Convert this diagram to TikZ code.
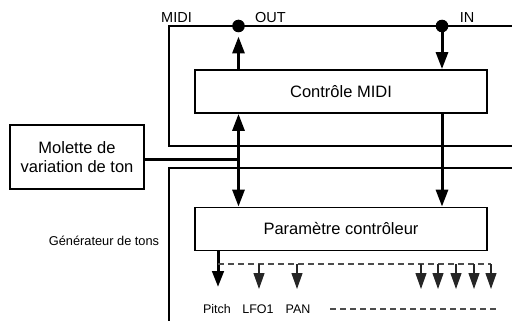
\documentclass[tikz,border=0pt]{standalone}
\usepackage{fontspec}
\setmainfont{Liberation Sans}
\usetikzlibrary{arrows.meta}
\tikzset{
  bloc/.style={draw, line width=1.8pt, minimum width=292pt, minimum height=43pt, inner sep=0pt, font=\fontsize{16.5}{19}\selectfont},
  ligne/.style={line width=1.8pt},
  fleche/.style={line width=3pt, -{Triangle[length=17pt,width=12pt]}},
  sortie/.style={line width=3pt, -{Triangle[length=16pt,width=11.5pt]}},
  pointille/.style={line width=1.2pt, dashed, dash pattern=on 6pt off 4pt, black!70},
  petite/.style={line width=1.2pt, black!85, -{Triangle[length=16pt,width=11pt]}},
  point/.style={circle, fill, inner sep=0pt, minimum size=12.6pt},
  etiquette/.style={inner sep=0pt, font=\fontsize{12.5}{14}\selectfont},
  port/.style={inner sep=0pt, font=\fontsize{14.5}{16}\selectfont},
}
\begin{document}
\begin{tikzpicture}[x=1pt, y=-1pt]
  \useasboundingbox (0,0) rectangle (512,321);

  % Lignes MIDI
  \coordinate (hg) at (169,26);
  \coordinate (hd) at (512,26);
  \coordinate (bg) at (169,146);
  \coordinate (bd) at (512,146);
  \draw[ligne] (hd) -- (hg) -- (bg) -- (bd);
  \node[port] (midi) at (176.5,17.5) {MIDI};

  % Bus du générateur
  \coordinate (gd) at (512,168);
  \coordinate (gg) at (169,168);
  \coordinate (gb) at (169,321);
  \draw[ligne] (gd) -- (gg) -- (gb);

  % Blocs
  \node[bloc] (ctrl) at (341,91.5) {Contrôle MIDI};
  \node[bloc] (param) at (341,229) {Paramètre contrôleur};
  \node[bloc, minimum width=134pt, minimum height=64pt, align=center] (molette) at (77,157) {Molette de\\variation de ton};
  \node[etiquette, font=\fontsize{12.8}{14}\selectfont] (gen) at (104,241) {Générateur de tons};

  % Prises OUT et IN
  \node[point] (out) at (238.5,26) {};
  \node[point] (in) at (442,26) {};
  \node[port] (lout) at (270.5,17.5) {OUT};
  \node[port] (lin) at (467,17.5) {IN};
  \draw[fleche, shorten >=4pt] (ctrl.north -| out) -- (out.south);
  \draw[fleche] (in.center) -- (ctrl.north -| in);
  \draw[fleche] (ctrl.south -| in) -- (param.north -| in);

  % Molette
  \coordinate (jonc) at (238.5,159);
  \draw[line width=3pt] (molette.east |- jonc) -- (jonc);
  \draw[fleche] (jonc) -- (ctrl.south -| jonc);
  \draw[fleche] (jonc) -- (param.north -| jonc);

  % Sorties
  \coordinate (pitch) at (218,287);
  \draw[sortie] (param.south -| pitch) -- (pitch);
  \coordinate (dg) at (218,264);
  \coordinate (dd) at (491,264);
  \draw[pointille] (dg) -- (dd);
  \foreach \x in {259,297,421,438,456,474,491}
    \draw[petite] (\x,264) -- (\x,289);

  % Etiquettes
  \node[etiquette] (lpitch) at (217,309) {Pitch};
  \node[etiquette] (llfo) at (258,309) {LFO1};
  \node[etiquette] (lpan) at (298,309) {PAN};
  \coordinate (eg) at (330,309);
  \coordinate (ed) at (497,309);
  \draw[pointille] (eg) -- (ed);
\end{tikzpicture}
\end{document}
